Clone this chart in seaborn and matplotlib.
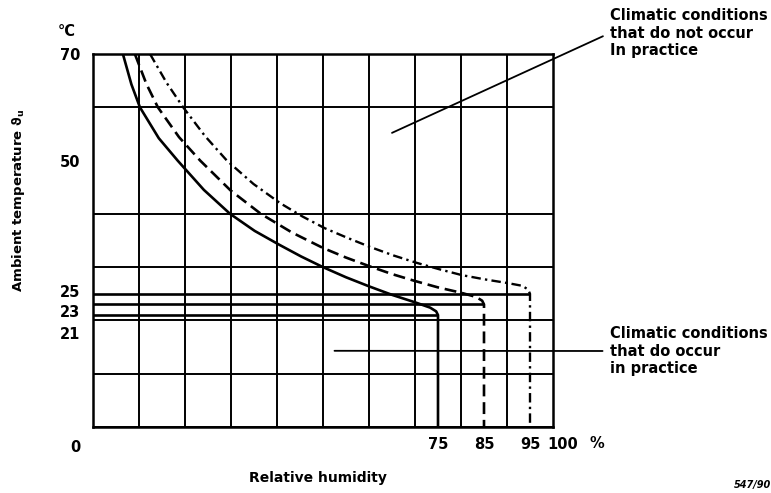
import matplotlib
matplotlib.use("Agg")
import matplotlib.pyplot as plt
import matplotlib.transforms as mtransforms
from matplotlib.ticker import MultipleLocator
import seaborn as sns

# Curves of constant water content (RH in %, temperature in degC)
# 75 % RH at 21 degC
rh_75 = [6.5, 8.35, 10.2, 14.3, 18.4, 24.1, 29.8, 35.15, 40.5, 45.25, 50.0,
         55.0, 60.0, 65.0, 70.0, 73.3, 74.6, 75.0, 75.0]
temp_75 = [70, 64.3, 60, 54.2, 50, 44.5, 40, 36.8, 34.2, 32.0, 30.0,
           28.1, 26.4, 24.8, 23.4, 22.4, 21.7, 21.0, 0]
# 85 % RH at 23 degC
rh_85 = [9.1, 11.6, 14.1, 18.7, 23.3, 29.9, 36.5, 43.25, 50.0, 55.0, 60.0,
         65.0, 70.0, 75.0, 80.0, 83.3, 84.6, 85.0, 85.0]
temp_85 = [70, 64.4, 60, 54.4, 50, 44.4, 40, 36.5, 33.6, 31.8, 30.2,
           28.7, 27.4, 26.2, 25.2, 24.4, 23.7, 23.0, 0]
# 95 % RH at 25 degC
rh_95 = [12.4, 16.0, 19.6, 24.35, 29.1, 34.9, 40.7, 45.55, 50.4, 55.3, 60.2,
         65.3, 70.4, 75.3, 80.2, 85.2, 90.2, 93.3, 94.6, 95.0, 95.0]
temp_95 = [70, 64.6, 60, 54.6, 50, 45.6, 42.0, 39.5, 37.3, 35.5, 33.8,
           32.2, 30.8, 29.6, 28.5, 27.7, 27.0, 26.5, 25.8, 25.0, 0]

ref_temps = [25, 23, 21]
ref_rh = [95, 85, 75]

y_ticks = [70, 50, 25, 23, 21]
y_tick_labels = ["70", "50", "25", "23", "21"]
x_ticks = [75, 85, 95, 100]
x_tick_labels = ["75", "85", "95", "100"]

sns.set_style("white")
plt.rcParams["font.family"] = ["DejaVu Sans"]
plt.rcParams["text.color"] = "black"
plt.rcParams["xtick.color"] = "black"
plt.rcParams["ytick.color"] = "black"
plt.rcParams["axes.labelcolor"] = "black"
plt.rcParams["font.weight"] = "bold"
plt.rcParams["axes.labelweight"] = "bold"
plt.rcParams["mathtext.default"] = "bf"

fig = plt.figure(figsize=(7.71, 4.93), dpi=100)
ax = fig.add_axes([93 / 771, 1 - 427 / 493, 460 / 771, 373 / 493])

ax.set_xlim(0, 100)
ax.set_ylim(0, 70)

# grid every 10 % / 10 degC
ax.xaxis.set_minor_locator(MultipleLocator(10))
ax.yaxis.set_minor_locator(MultipleLocator(10))
ax.grid(which="minor", color="black", lw=1.4)
ax.grid(which="major", visible=False)
ax.tick_params(which="minor", length=0)

# reference temperatures
ax.hlines(ref_temps, 0, ref_rh, color="black", lw=1.9, zorder=3)

sns.lineplot(x=rh_75, y=temp_75, sort=False, estimator=None, color="black",
             lw=1.9, ax=ax, zorder=4)
sns.lineplot(x=rh_85, y=temp_85, sort=False, estimator=None, color="black",
             lw=1.9, linestyle=(0, (4.5, 2.2)), ax=ax, zorder=4)
sns.lineplot(x=rh_95, y=temp_95, sort=False, estimator=None, color="black",
             lw=1.7, linestyle=(0, (4, 1.8, 1, 1.8)), ax=ax, zorder=4)

for side in ax.spines.values():
    side.set_color("black")
    side.set_linewidth(1.8)

ax.set_yticks(y_ticks)
ax.set_yticklabels(y_tick_labels)
ax.set_xticks(x_ticks)
ax.set_xticklabels(x_tick_labels)
ax.tick_params(axis="y", which="major", length=0, pad=9, labelsize=10.5)
ax.tick_params(axis="x", which="major", length=0, pad=7, labelsize=10.5)

# stagger the crowded labels like the drawing does
y_shift = {"25": 3, "23": -7, "21": -18}
for lab in ax.get_yticklabels():
    dy = y_shift.get(lab.get_text(), 0)
    lab.set_transform(lab.get_transform()
                      + mtransforms.ScaledTranslation(0, dy / 100, fig.dpi_scale_trans))
for lab in ax.get_xticklabels():
    if lab.get_text() == "100":
        lab.set_transform(lab.get_transform()
                          + mtransforms.ScaledTranslation(10 / 100, 0, fig.dpi_scale_trans))

fig.text(597 / 771, 1 - 443 / 493, "%", ha="center", va="center", fontsize=10.5)
fig.text(75 / 771, 1 - 447 / 493, "0", ha="center", va="center", fontsize=10.5)
fig.text(67 / 771, 1 - 32 / 493, "°C", ha="center", va="center", fontsize=10.5)

ax.set_ylabel("Ambient temperature $\\vartheta_{\\mathrm{u}}$", fontsize=9.5)
ax.yaxis.set_label_coords((27 - 93) / 460, (427 - 200) / 373)
ax.set_xlabel("Relative humidity", fontsize=10)
ax.xaxis.set_label_coords((318 - 93) / 460, (427 - 471) / 373)

arrow = dict(arrowstyle="-", color="black", lw=1.3, relpos=(0, 0.5),
             shrinkA=3, shrinkB=0)
ax.annotate("Climatic conditions\nthat do not occur\nIn practice",
            xy=(65, 55.2), xycoords="data",
            xytext=(610, 493 - 33), textcoords="figure pixels",
            ha="left", va="center", fontsize=10.5, linespacing=1.25,
            arrowprops=arrow, annotation_clip=False)
ax.annotate("Climatic conditions\nthat do occur\nin practice",
            xy=(52.5, 14.3), xycoords="data",
            xytext=(610, 493 - 351), textcoords="figure pixels",
            ha="left", va="center", fontsize=10.5, linespacing=1.25,
            arrowprops=arrow, annotation_clip=False)

fig.text(753 / 771, 1 - 485 / 493, "547/90", ha="center", va="center",
         fontsize=7, style="italic")

fig.savefig("out.png", dpi=100)
